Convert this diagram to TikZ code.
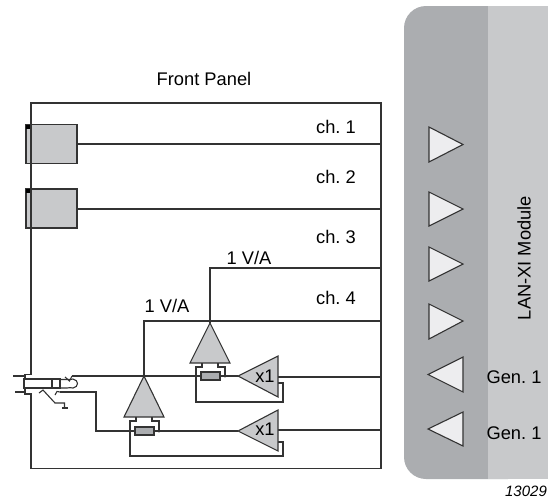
\documentclass[tikz,border=0pt]{standalone}
\usepackage{fontspec}
\setmainfont{Liberation Sans}
\frenchspacing
\definecolor{moddark}{HTML}{ABADB0}
\definecolor{modlight}{HTML}{C8C9CB}
\definecolor{trifill}{HTML}{EDEDEF}
\definecolor{ink}{HTML}{333333}
\tikzset{
  wire/.style={draw=ink,line width=1.1pt,line join=miter},
  amp/.style={draw=ink,line width=1.1pt,fill=modlight,line join=miter},
  port/.style={draw=ink,line width=1.1pt,fill=trifill,line join=miter},
  lbl/.style={inner sep=0pt,text=black,font=\fontsize{18.3}{20}\selectfont},
  junction/.style={circle,fill=ink,inner sep=0pt,minimum size=3pt},
  conn/.style={draw=ink,line width=1.2pt,fill=modlight},
  res/.style={draw=ink,line width=1.1pt,fill=moddark}
}
\begin{document}
\begin{tikzpicture}[x=1pt,y=-1pt]
\useasboundingbox (0,0) rectangle (548,499);
% module
\fill[moddark,rounded corners=22pt] (404,6) rectangle (530,479);
\fill[modlight] (488,6) rectangle (548,479);
% port triangles
\draw[port] (429,127) -- (463,144.5) -- (429,162) -- cycle;
\draw[port] (429,192) -- (463,209) -- (429,226) -- cycle;
\draw[port] (429,247) -- (463,264) -- (429,281) -- cycle;
\draw[port] (429,304) -- (463,321) -- (429,339) -- cycle;
\draw[port] (463,357) -- (428,374.5) -- (463,392) -- cycle;
\draw[port] (463,412) -- (428,429) -- (463,446) -- cycle;
% coordinates
\coordinate (tipA) at (210,323);
\coordinate (tipB) at (144,376);
\coordinate (eR1) at (381,144);
\coordinate (eR2) at (381,209);
\coordinate (eR3) at (381,268);
\coordinate (eR4) at (381,321);
\coordinate (eO1) at (381,377);
\coordinate (eO2) at (381,430);
% connector boxes
\node[conn,minimum width=51pt,minimum height=39pt,inner sep=0pt] (connA) at (51.5,144) {};
\node[conn,minimum width=51pt,minimum height=39pt,inner sep=0pt] (connB) at (51.5,208.5) {};
\fill[black] (26,124.5) rectangle (30,128.5);
\fill[black] (26,189) rectangle (30,193);
% front panel outline with jack step
\draw[wire] (25,378) -- (25,374.5) -- (31,374.5) -- (31,103) -- (381,103) -- (381,468.5) -- (31,468.5) -- (31,394) -- (25,394) -- (25,389);
% channel wires
\draw[wire] (connA.east |- eR1) -- (eR1);
\draw[wire] (connB.east |- eR2) -- (eR2);
\draw[wire] (eR3) -- (tipA |- eR3) -- (tipA);
\draw[wire] (eR4) -- (tipB |- eR4) -- (tipB);
% jack
\draw[wire] (13,376) -- (25,376);
\draw[wire] (15,392) -- (25,392);
\draw[wire] (24,379) rectangle (60,388);
\draw[wire] (52,379) -- (52,388);
\draw[wire] (60,379.5) -- (67,379.5) .. controls (70,380.5) and (71,378.5) .. (73,379) .. controls (79,380) and (79,387) .. (73,388) .. controls (71,388.5) and (69,386.5) .. (67,388) -- (60,388);
\draw[wire] (65,377) -- (69.5,381) -- (72,376);
\draw[wire] (39,393) -- (43,390) -- (55,403) -- (64.5,403) -- (64.5,408);
\draw[wire] (62,408) -- (68,408);
\draw[wire] (55,395) -- (57,391.5) -- (60,392);
% amplifiers
\coordinate (jA1) at (196,376);
\coordinate (jA2) at (225,376);
\coordinate (bA) at (238,376);
\coordinate (bB) at (238,431);
\coordinate (jB1) at (130,431);
\coordinate (jB2) at (159,431);
\draw[wire] (72,376) -- (jA1);
\draw[wire] (60,392) -- (96,392) -- (96,431) -- (jB1);
\draw[wire] (jA1) -- (jA2) -- (bA);
\draw[wire] (jB1) -- (jB2) -- (bB);
\draw[amp] (tipA) -- (230,363) -- (190,363) -- cycle;
\draw[amp] (tipB) -- (164,417) -- (124,417) -- cycle;
\draw[wire] (202,363) -- (202,367) -- (196,367) -- (jA1);
\draw[wire] (218,363) -- (218,367) -- (225,367) -- (jA2);
\draw[wire] (136,417) -- (136,421) -- (130,421) -- (jB1);
\draw[wire] (152,417) -- (152,421) -- (159,421) -- (jB2);
\node[res,minimum width=19pt,minimum height=8pt,inner sep=0pt] (rA) at (210.5,376) {};
\node[res,minimum width=19pt,minimum height=8pt,inner sep=0pt] (rB) at (144.5,431) {};
\node[junction] (dA1) at (jA1) {};
\node[junction] (dA2) at (jA2) {};
\node[junction] (dB1) at (jB1) {};
\node[junction] (dB2) at (jB2) {};
% buffers feedback
\draw[wire] (278,383) -- (283,383) -- (283,402) -- (196,402) -- (jA1);
\draw[wire] (278,442) -- (283,442) -- (283,456) -- (130,456) -- (jB1);
\draw[wire] (278,377) -- (eO1);
\draw[wire] (278,430) -- (eO2);
\draw[amp] (bA) -- (278,356) -- (278,397) -- cycle;
\draw[amp] (bB) -- (278,410) -- (278,451) -- cycle;
% text
\node[lbl] (tFP) at (204,79) {Front Panel};
\node[lbl] (t1) at (336,127) {ch. 1};
\node[lbl] (t2) at (336,177) {ch. 2};
\node[lbl] (t3) at (336,237) {ch. 3};
\node[lbl] (t4) at (336,298) {ch. 4};
\node[lbl] (tVa) at (249,258) {1 V/A};
\node[lbl] (tVb) at (167,306) {1 V/A};
\node[lbl] (tx1) at (265,376) {x1};
\node[lbl] (tx2) at (265,429) {x1};
\node[lbl] (tG1) at (514,377) {Gen. 1};
\node[lbl] (tG2) at (514,433) {Gen. 1};
\node[lbl,rotate=90] (tLX) at (524,258) {LAN-XI Module};
\node[lbl,font=\fontsize{15}{17}\itshape\selectfont] (tNo) at (526,491) {13029};
\end{tikzpicture}
\end{document}
